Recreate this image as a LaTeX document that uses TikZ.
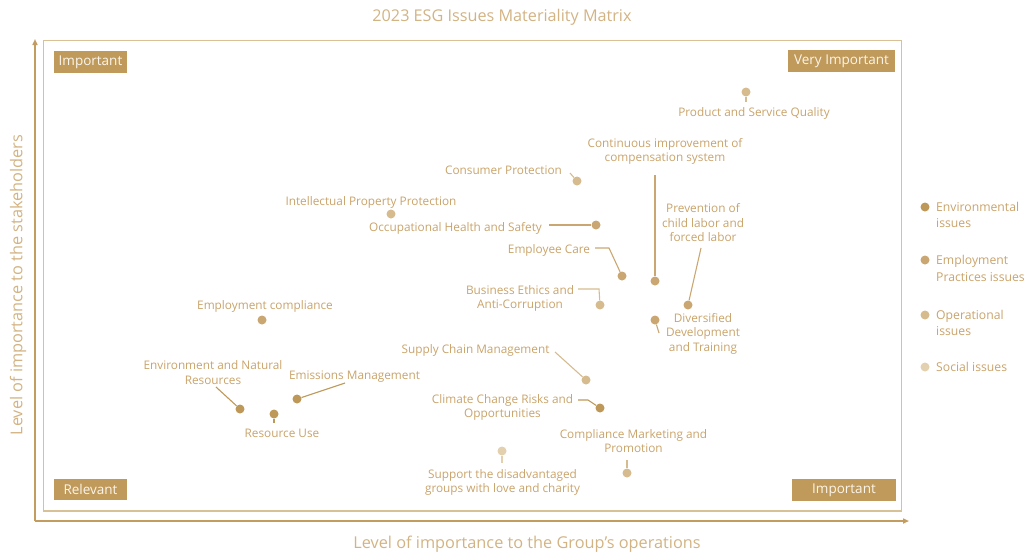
\documentclass[tikz,border=0pt]{standalone}
\usepackage{fontspec}
\setmainfont{Open Sans}
\usetikzlibrary{arrows.meta}
\definecolor{gold}{HTML}{C09A5B}
\definecolor{frame}{HTML}{D8C197}
\definecolor{axis}{HTML}{C39D60}
\definecolor{lbltxt}{HTML}{C9A36A}
\definecolor{ttl}{HTML}{D2B383}
\definecolor{cE}{HTML}{BE9858}
\definecolor{cP}{HTML}{CAA772}
\definecolor{cO}{HTML}{D6BB8E}
\definecolor{cS}{HTML}{E2D0AE}
\definecolor{boxtxt}{HTML}{FBF5EA}
\tikzset{
  lbl/.style={text=lbltxt, font=\fontsize{11.8}{14.5}\selectfont, align=center, inner sep=0pt, yshift=-1.5pt},
  corner/.style={fill=gold, text=boxtxt, font=\fontsize{13.5}{15}\selectfont, inner sep=0pt, minimum height=22pt},
  dotbase/.style={circle, inner sep=0pt, minimum size=9pt},
  dotE/.style={dotbase, fill=cE},
  dotP/.style={dotbase, fill=cP},
  dotO/.style={dotbase, fill=cO},
  dotS/.style={dotbase, fill=cS},
  lnE/.style={draw=cE, line width=1.1pt},
  lnP/.style={draw=cP, line width=1.1pt},
  lnO/.style={draw=cO, line width=1.1pt},
  lnS/.style={draw=cS, line width=1.1pt},
  legtxt/.style={text=lbltxt, font=\fontsize{12.2}{16.5}\selectfont, align=left, inner sep=0pt, anchor=west},
  axlbl/.style={text=ttl, font=\fontsize{16.3}{18}\selectfont, inner sep=0pt},
}
\begin{document}
\begin{tikzpicture}[x=1pt,y=-1pt]
\useasboundingbox (0,0) rectangle (1030,555);
% title and axis labels
\node[axlbl, font=\fontsize{16.2}{18}\selectfont] (title) at (502,17) {2023 ESG Issues Materiality Matrix};
\node[axlbl] (xlab) at (527,544) {Level of importance to the Group's operations};
\node[axlbl, rotate=90] (ylab) at (18,285) {Level of importance to the stakeholders};
% frame
\draw[frame, line width=1.2pt] (43.5,40.5) rectangle (901.5,511);
% axes
\coordinate (o) at (35,521);
\coordinate (yt) at (35,39);
\coordinate (xt) at (909,521);
\draw[axis, line width=1.6pt, -{Triangle[length=6pt,width=5pt]}] (o) -- (yt);
\draw[axis, line width=1.6pt, -{Triangle[length=6pt,width=5pt]}] (o) -- (xt);
% corner boxes
\node[corner, minimum width=73pt] (tl) at (90.5,62) {Important};
\node[corner, minimum width=107pt] (tr) at (841.5,61) {Very Important};
\node[corner, minimum width=73pt, minimum height=21pt] (bl) at (90.5,489.5) {Relevant};
\node[corner, minimum width=104pt] (br) at (844,490) {Important};
% dots
\node[dotO] (dprod) at (746,92) {};
\node[dotP] (dcont) at (655,281) {};
\node[dotO] (dcons) at (577,181) {};
\node[dotO] (dip) at (391,214) {};
\node[dotP] (dohs) at (596,225) {};
\node[dotP] (dcare) at (622,276) {};
\node[dotO] (dbus) at (600,305) {};
\node[dotP] (dprev) at (688,305) {};
\node[dotP] (ddiv) at (655,320) {};
\node[dotP] (dempc) at (262,320) {};
\node[dotO] (dsupply) at (586,380) {};
\node[dotE] (denv) at (240,409) {};
\node[dotE] (dres) at (274,414) {};
\node[dotE] (demis) at (297,399) {};
\node[dotE] (dclim) at (600,408) {};
\node[dotO] (dcomp) at (627,473) {};
\node[dotS] (dsupp) at (502,451) {};
% labels
\node[lbl] (lprod) at (754,112) {Product and Service Quality};
\node[lbl] (lcont) at (665,150) {Continuous improvement of\\compensation system};
\node[lbl] (lcons) at (503.5,169) {Consumer Protection};
\node[lbl] (lip) at (371,201) {Intellectual Property Protection};
\node[lbl] (lohs) at (455.5,227) {Occupational Health and Safety};
\node[lbl] (lcare) at (549,249) {Employee Care};
\node[lbl] (lbus) at (520,297) {Business Ethics and\\Anti-Corruption};
\node[lbl] (lprev) at (703,221.5) {Prevention of\\child labor and\\forced labor};
\node[lbl] (ldiv) at (703,332) {Diversified\\Development\\and Training};
\node[lbl] (lempc) at (265,305) {Employment compliance};
\node[lbl] (lsupply) at (475.5,349) {Supply Chain Management};
\node[lbl] (lenv) at (213,371) {Environment and Natural\\Resources};
\node[lbl] (lres) at (282,432) {Resource Use};
\node[lbl] (lemis) at (354.5,375) {Emissions Management};
\node[lbl] (lclim) at (502.5,406) {Climate Change Risks and\\Opportunities};
\node[lbl] (lcomp) at (633.5,439.5) {Compliance Marketing and\\Promotion};
\node[lbl] (lsupp) at (502.5,481) {Support the disadvantaged\\groups with love and charity};
% connector free ends
\coordinate (cprod) at (746,102);
\coordinate (ccont) at (655,175);
\coordinate (ccons) at (570,173);
\coordinate (cohs) at (549,225);
\coordinate (ccare1) at (595,248);
\coordinate (ccare2) at (609,248);
\coordinate (cbus1) at (578,289);
\coordinate (cbus2) at (599,289);
\coordinate (cprev) at (701,248);
\coordinate (cdiv) at (659,333);
\coordinate (csupply) at (555,352);
\coordinate (cenv) at (216,387);
\coordinate (cres) at (274,423);
\coordinate (cemis) at (345,383);
\coordinate (cclim1) at (578,400);
\coordinate (cclim2) at (588,400);
\coordinate (ccomp) at (627,460);
\coordinate (csupp) at (502,463);
% connectors
\draw[lnO] (cprod) -- (dprod);
\draw[lnP] (ccont) -- (dcont);
\draw[lnO] (ccons) -- (dcons);
\draw[lnP] (cohs) -- (dohs);
\draw[lnP] (ccare1) -- (ccare2) -- (dcare);
\draw[lnO] (cbus1) -- (cbus2) -- (dbus);
\draw[lnP] (cprev) -- (dprev);
\draw[lnP] (cdiv) -- (ddiv);
\draw[lnO] (csupply) -- (dsupply);
\draw[lnE] (cenv) -- (denv);
\draw[lnE] (cres) -- (dres);
\draw[lnE] (cemis) -- (demis);
\draw[lnE] (cclim1) -- (cclim2) -- (dclim);
\draw[lnO] (ccomp) -- (dcomp);
\draw[lnS] (csupp) -- (dsupp);
% legend
\node[dotE] (gE) at (925,207) {};
\node[dotP] (gP) at (925,260) {};
\node[dotO] (gO) at (925,315) {};
\node[dotS] (gS) at (925,367) {};
\node[legtxt] (tE) at (936,215) {Environmental\\issues};
\node[legtxt] (tP) at (936,268.5) {Employment\\Practices issues};
\node[legtxt] (tO) at (936,323) {Operational\\issues};
\node[legtxt] (tS) at (936,367) {Social issues};
\end{tikzpicture}
\end{document}
